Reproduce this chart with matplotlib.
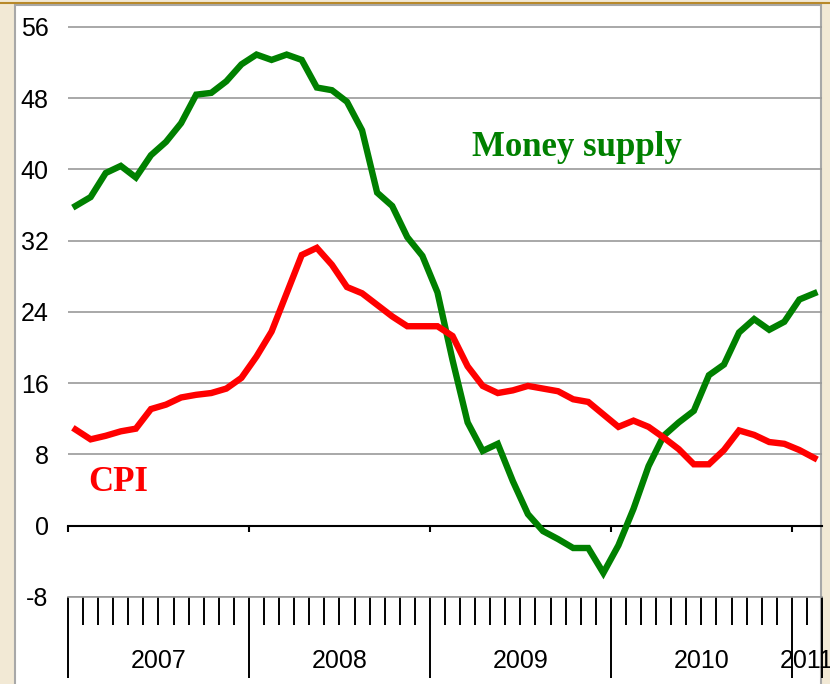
import matplotlib
matplotlib.use("Agg")
import matplotlib.pyplot as plt
import numpy as np
from matplotlib.patches import Rectangle
from matplotlib.lines import Line2D

# monthly growth rates (%), Jan 2007 .. Feb 2011
money_supply = [35.9, 36.9, 39.6, 40.4, 39.1, 41.6, 43.1, 45.2, 48.4, 48.6,
                49.9, 51.8, 52.9, 52.3, 52.9, 52.3, 49.2, 48.9, 47.6, 44.4,
                37.4, 35.9, 32.4, 30.3, 26.2, 18.6, 11.6, 8.4, 9.2, 5.0,
                1.3, -0.6, -1.5, -2.5, -2.5, -5.3, -2.2, 1.9, 6.7, 10.1,
                11.6, 12.9, 16.9, 18.1, 21.7, 23.2, 22.0, 22.9, 25.4, 26.1]
cpi = [10.8, 9.7, 10.1, 10.6, 10.9, 13.1, 13.6, 14.4, 14.7, 14.9,
       15.4, 16.6, 19.0, 21.8, 26.1, 30.4, 31.2, 29.3, 26.8, 26.1,
       24.8, 23.5, 22.4, 22.4, 22.4, 21.3, 17.9, 15.7, 14.9, 15.2,
       15.7, 15.4, 15.1, 14.2, 13.9, 12.5, 11.1, 11.8, 11.1, 9.9,
       8.6, 6.9, 6.9, 8.5, 10.7, 10.2, 9.4, 9.2, 8.5, 7.6]
years = ["2007", "2008", "2009", "2010", "2011"]
y_ticks = [-8, 0, 8, 16, 24, 32, 40, 48, 56]

W, H = 830, 684
fig = plt.figure(figsize=(W / 100, H / 100), dpi=100, facecolor="#f2e9d5")

# white slide frame and golden rule on top
fig.add_artist(Rectangle((15 / W, -0.01), 806 / W, (H - 5) / H + 0.01,
                         transform=fig.transFigure, facecolor="white",
                         edgecolor="#a8a8a8", lw=1.5, zorder=0))
fig.add_artist(Line2D([0, 1], [1 - 3 / H] * 2, transform=fig.transFigure,
                      color="#b8892a", lw=1.5, zorder=1))

ax = fig.add_axes([68 / W, 87 / H, 754 / W, 583.4 / H])
ax.patch.set_visible(False)

n = len(money_supply)
x = np.arange(n) + 0.5
ax.plot(x, money_supply, color="#008000", lw=4.6, zorder=4, solid_joinstyle="miter")
ax.plot(x, cpi, color="#ff0000", lw=4.6, zorder=4, solid_joinstyle="miter")

ax.set_xlim(0, 50)
ax.set_ylim(-8, 57.5)
ax.set_yticks(y_ticks)
ax.set_yticklabels([str(v) for v in y_ticks], fontsize=18, family="Liberation Sans")
ax.tick_params(axis="y", length=0, pad=14)
ax.grid(True, axis="y", color="#999999", lw=1.2)
ax.set_axisbelow(True)

for side in ("left", "right", "top"):
    ax.spines[side].set_visible(False)
ax.spines["bottom"].set_position(("data", 0))
ax.spines["bottom"].set_color("black")
ax.spines["bottom"].set_linewidth(1.5)
ax.spines["bottom"].set_zorder(3)

year_bounds = np.arange(0, 50, 12)
ax.set_xticks(year_bounds)
ax.set_xticklabels([])
ax.tick_params(axis="x", which="major", length=4, width=1.5, direction="out")

# lower time axis at -8 with monthly and yearly ticks
sec = ax.secondary_xaxis("bottom")
sec.spines["bottom"].set_color("#999999")
sec.spines["bottom"].set_linewidth(1.2)
sec.set_xticks(np.append(year_bounds, 50))
sec.set_xticks(np.arange(1, 50), minor=True)
sec.set_xticklabels([])
sec.tick_params(which="major", length=58, width=1.4, color="black")
sec.tick_params(which="minor", length=20, width=1.4, color="black")

year_centers = [6, 18, 30, 42, 48.95]
for xc, label in zip(year_centers, years):
    ax.text(xc, -0.11, label, transform=ax.get_xaxis_transform(), ha="center",
            va="center", fontsize=18, family="Liberation Sans")

ax.text(26.8, 41.5, "Money supply", color="#008000", fontsize=25,
        family="Liberation Serif", weight="bold", ha="left", va="baseline")
ax.text(1.33, 3.9, "CPI", color="#ff0000", fontsize=25,
        family="Liberation Serif", weight="bold", ha="left", va="baseline")

fig.savefig("out.png", dpi=100, facecolor=fig.get_facecolor())
